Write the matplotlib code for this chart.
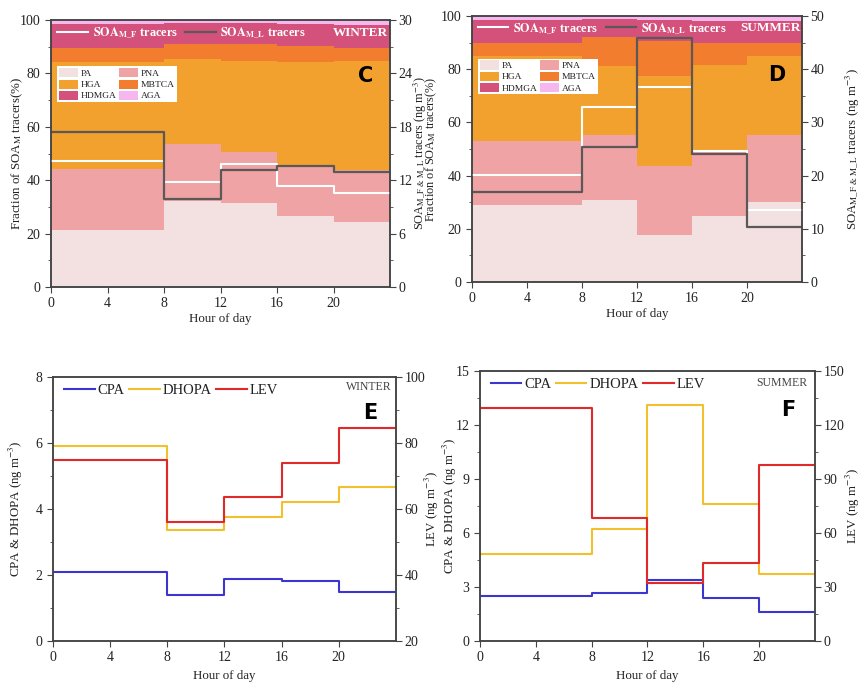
import matplotlib
matplotlib.use('Agg')
import matplotlib.pyplot as plt
from matplotlib.patches import Patch
from matplotlib.lines import Line2D
from matplotlib.ticker import MultipleLocator

plt.rcParams['font.family'] = ['Liberation Serif', 'DejaVu Serif']
plt.rcParams['mathtext.fontset'] = 'stix'

# ---------------- data ----------------
hour_edges = [0, 8, 12, 16, 20, 24]
components = ['PA', 'PNA', 'HGA', 'MBTCA', 'HDMGA', 'AGA']
comp_colors = ['#f3e1e1', '#efa3a4', '#f2a12e', '#f27d2e', '#d3517a', '#f6b6ee']

# Winter fractions (%) per time bin
w_PA = [21.4, 32.2, 31.5, 26.6, 24.3]
w_PNA = [22.7, 21.4, 18.9, 18.7, 19.6]
w_HGA = [40.3, 31.7, 34.4, 39.0, 40.9]
w_MBTCA = [5.3, 5.7, 6.1, 6.0, 4.9]
w_HDMGA = [8.9, 7.8, 7.9, 8.3, 8.5]
w_AGA = [1.4, 1.2, 1.2, 1.4, 1.8]
w_SOA_MF = [14.2, 11.75, 13.8, 11.4, 10.55]
w_SOA_ML = [17.45, 9.9, 13.2, 13.55, 12.95]

# Summer fractions (%) per time bin
s_PA = [29.1, 31.0, 17.8, 24.7, 30.1]
s_PNA = [23.8, 24.1, 25.7, 24.3, 25.1]
s_HGA = [32.1, 26.2, 33.9, 32.6, 29.6]
s_MBTCA = [4.7, 10.7, 13.1, 8.1, 5.0]
s_HDMGA = [8.8, 7.0, 8.0, 8.6, 8.4]
s_AGA = [1.5, 1.0, 1.5, 1.7, 1.8]
s_SOA_MF = [20.2, 32.9, 36.6, 24.6, 13.5]
s_SOA_ML = [16.9, 25.3, 45.9, 24.0, 10.3]

# Winter tracers (ng m-3)
w_CPA = [2.10, 1.39, 1.87, 1.81, 1.48]
w_DHOPA = [5.92, 3.37, 3.77, 4.21, 4.67]
w_LEV = [74.9, 56.2, 63.5, 73.9, 84.5]

# Summer tracers (ng m-3)
s_CPA = [2.52, 2.69, 3.39, 2.39, 1.59]
s_DHOPA = [4.83, 6.20, 13.09, 7.63, 3.70]
s_LEV = [129.3, 68.3, 32.4, 43.5, 97.8]

TXT = '#222222'
SP = '#444444'
LBL = 9.3
LBL_MID = 8.8

fig = plt.figure(figsize=(8.6, 6.83), dpi=100)


def style_axes(ax, ax2):
    for a in (ax, ax2):
        for s in a.spines.values():
            s.set_color(SP)
            s.set_linewidth(1.1)
        a.tick_params(axis='both', which='both', direction='out', colors=SP,
                      labelcolor=TXT, labelsize=10)
        a.tick_params(which='major', length=4)
        a.tick_params(which='minor', length=2.5)
    ax2.tick_params(axis='y', which='major', pad=2)


def step_vals(v):
    return list(v) + [v[-1]]


def stacked_panel(rect, fracs, mf, ml, ymax2, ystep2, season, letter,
                  leg_pos, leg_line_pos, letter_pos, lx, rx, lsize, rsize):
    ax = fig.add_axes(rect)
    widths = [hour_edges[i + 1] - hour_edges[i] for i in range(len(hour_edges) - 1)]
    bottoms = [0.0] * len(widths)
    for name, vals, col in zip(components, fracs, comp_colors):
        ax.bar(hour_edges[:-1], vals, width=widths, bottom=bottoms, align='edge',
               color=col, edgecolor='none', linewidth=0)
        bottoms = [b + v for b, v in zip(bottoms, vals)]
    ax.set_xlim(0, 24)
    ax.set_ylim(0, 100)
    ax.set_xticks([0, 4, 8, 12, 16, 20])
    ax.yaxis.set_major_locator(MultipleLocator(20))
    ax.yaxis.set_minor_locator(MultipleLocator(10))
    ax.set_xlabel('Hour of day', fontsize=LBL, color=TXT, labelpad=2)
    ax.set_ylabel('Fraction of SOA$_{\\mathrm{M}}$ tracers(%)', fontsize=lsize,
                  color=TXT)
    ax.yaxis.set_label_coords(lx, 0.5)

    ax2 = ax.twinx()
    ax2.step(hour_edges, step_vals(mf), where='post', color='white', lw=1.5)
    ax2.step(hour_edges, step_vals(ml), where='post', color='#5d5858', lw=1.6)
    ax2.set_ylim(0, ymax2)
    ax2.yaxis.set_major_locator(MultipleLocator(ystep2))
    ax2.yaxis.set_minor_locator(MultipleLocator(ystep2 / 2))
    ax2.set_ylabel('SOA$_{\\mathrm{M\\_F\\ &\\ M\\_L}}$ tracers (ng m$^{-3}$)',
                   fontsize=rsize, color=TXT)
    ax2.yaxis.set_label_coords(rx, 0.5)
    style_axes(ax, ax2)

    handles = [Patch(facecolor=c, edgecolor='none', label=n)
               for n, c in zip(components, comp_colors)]
    order = [0, 2, 4, 1, 3, 5]
    leg = ax2.legend([handles[i] for i in order], [components[i] for i in order],
                     ncol=2, loc='upper left', bbox_to_anchor=leg_pos,
                     fontsize=6.8, frameon=True, fancybox=False, framealpha=1,
                     edgecolor='white', handlelength=2.0, handleheight=1.1,
                     columnspacing=0.3, handletextpad=0.3, labelspacing=0.15,
                     borderpad=0.2, borderaxespad=0)
    leg.get_frame().set_linewidth(0)
    for t in leg.get_texts():
        t.set_color(TXT)
    ax2.add_artist(leg)

    lines = [Line2D([], [], color='white', lw=1.5),
             Line2D([], [], color='#5d5858', lw=1.6)]
    ax2.legend(lines, ['$\\mathbf{SOA_{M\\_F}}$ tracers',
                       '$\\mathbf{SOA_{M\\_L}}$ tracers'],
               ncol=2, loc='center left', bbox_to_anchor=leg_line_pos,
               frameon=False, labelcolor='white',
               prop={'weight': 'bold', 'size': 8.8},
               handlelength=2.5, handletextpad=0.4, columnspacing=0.6,
               borderaxespad=0, borderpad=0)
    ax2.text(0.995, leg_line_pos[1], season, transform=ax.transAxes, ha='right',
             va='center', color='white', fontsize=9.5, fontweight='bold')
    ax2.text(letter_pos[0], letter_pos[1], letter, transform=ax.transAxes,
             ha='center', va='center', fontsize=15, fontweight='bold',
             family='DejaVu Sans', color='black')
    return ax, ax2


def line_panel(rect, cpa, dhopa, lev, ylim1, step1, ylim2, step2, season, letter,
               letter_pos, season_pos, lx, rx):
    ax = fig.add_axes(rect)
    ax2 = ax.twinx()
    l1, = ax.step(hour_edges, step_vals(cpa), where='post', color='#3d35d0', lw=1.5)
    l2, = ax.step(hour_edges, step_vals(dhopa), where='post', color='#f2bf2d', lw=1.5)
    l3, = ax2.step(hour_edges, step_vals(lev), where='post', color='#e02a2a', lw=1.5)
    ax.set_xlim(0, 24)
    ax.set_ylim(*ylim1)
    ax2.set_ylim(*ylim2)
    ax.set_xticks([0, 4, 8, 12, 16, 20])
    ax.yaxis.set_major_locator(MultipleLocator(step1))
    ax.yaxis.set_minor_locator(MultipleLocator(step1 / 2))
    ax2.yaxis.set_major_locator(MultipleLocator(step2))
    ax2.yaxis.set_minor_locator(MultipleLocator(step2 / 2))
    ax.set_xlabel('Hour of day', fontsize=LBL, color=TXT, labelpad=4)
    ax.set_ylabel('CPA & DHOPA (ng m$^{-3}$)', fontsize=LBL, color=TXT)
    ax.yaxis.set_label_coords(lx, 0.5)
    if rx is not None:
        ax2.set_ylabel('LEV (ng m$^{-3}$)', fontsize=LBL, color=TXT)
        ax2.yaxis.set_label_coords(rx, 0.5)
    style_axes(ax, ax2)
    ax.legend([l1, l2, l3], ['CPA', 'DHOPA', 'LEV'], ncol=3, loc='upper left',
              bbox_to_anchor=(0.015, 0.995), frameon=False, fontsize=10.5,
              handlelength=2.1, handletextpad=0.2, columnspacing=0.3,
              borderaxespad=0, labelcolor=TXT)
    ax.text(season_pos[0], season_pos[1], season, transform=ax.transAxes,
            ha='right', va='center', fontsize=8.5, color='#444444')
    ax.text(letter_pos[0], letter_pos[1], letter, transform=ax.transAxes,
            ha='center', va='center', fontsize=15, fontweight='bold',
            family='DejaVu Sans', color='black')
    return ax, ax2


# Panel C (winter)
stacked_panel([0.0593, 0.5798, 0.3942, 0.3909],
              [w_PA, w_PNA, w_HGA, w_MBTCA, w_HDMGA, w_AGA],
              w_SOA_MF, w_SOA_ML, 30, 6, 'WINTER', 'C',
              (0.018, 0.826), (0.018, 0.951), (0.929, 0.79), -0.077, 1.064,
              LBL, LBL_MID)

# Panel D (summer)
stacked_panel([0.5488, 0.5871, 0.3837, 0.3895],
              [s_PA, s_PNA, s_HGA, s_MBTCA, s_HDMGA, s_AGA],
              s_SOA_MF, s_SOA_ML, 50, 10, 'SUMMER', 'D',
              (0.018, 0.84), (0.018, 0.953), (0.924, 0.778), -0.100, 1.124,
              LBL_MID, LBL)

# Panel E (winter)
line_panel([0.0616, 0.0615, 0.3988, 0.3865], w_CPA, w_DHOPA, w_LEV,
           (0, 8), 2, (20, 100), 20, 'WINTER', 'E', (0.924, 0.864),
           (0.988, 0.962), -0.082, None)

# Panel F (summer)
axF, axF2 = line_panel([0.5581, 0.0615, 0.3895, 0.3953], s_CPA, s_DHOPA, s_LEV,
                       (0, 15), 3, (0, 150), 30, 'SUMMER', 'F', (0.919, 0.856),
                       (0.976, 0.955), -0.062, 1.085)
axF.text(-0.142, 0.49, 'LEV (ng m$^{-3}$)', transform=axF.transAxes, rotation=90,
         ha='center', va='center', fontsize=LBL, color=TXT)

fig.savefig('out.png', dpi=100)
